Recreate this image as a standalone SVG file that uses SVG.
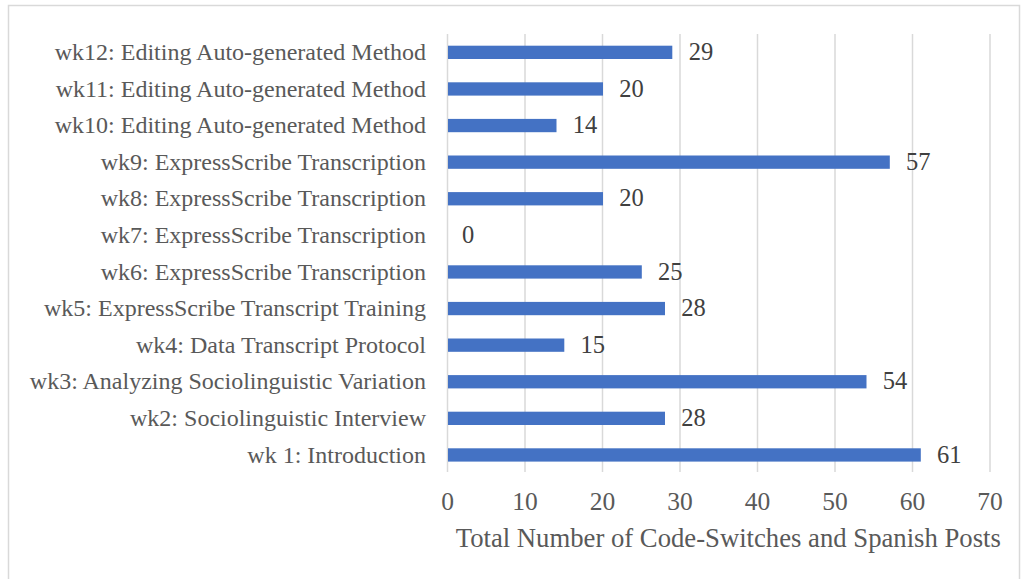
<svg xmlns="http://www.w3.org/2000/svg" width="1021" height="579" viewBox="0 0 1021 579">
<style>
.cat{font-family:"Liberation Serif","Times New Roman",serif;font-size:24px;fill:#595959;text-anchor:end}
.val{font-family:"Liberation Serif","Times New Roman",serif;font-size:24.5px;fill:#404040;text-anchor:start}
.tick{font-family:"Liberation Serif","Times New Roman",serif;font-size:25.5px;fill:#595959;text-anchor:middle}
.title{font-family:"Liberation Serif","Times New Roman",serif;font-size:26.7px;fill:#595959;text-anchor:middle}
.grid{stroke:#d9d9d9;stroke-width:1.5}
.bar{fill:#4472c4}
</style>
<rect x="0" y="0" width="1021" height="579" fill="#ffffff"/>
<rect x="8.5" y="5.5" width="1011" height="600" fill="#ffffff" stroke="#d9d9d9" stroke-width="1.5"/>
<g id="gridlines">
<line class="grid" x1="447.5" y1="34" x2="447.5" y2="472"/>
<line class="grid" x1="525" y1="34" x2="525" y2="472"/>
<line class="grid" x1="602.5" y1="34" x2="602.5" y2="472"/>
<line class="grid" x1="680" y1="34" x2="680" y2="472"/>
<line class="grid" x1="757.5" y1="34" x2="757.5" y2="472"/>
<line class="grid" x1="835" y1="34" x2="835" y2="472"/>
<line class="grid" x1="912.5" y1="34" x2="912.5" y2="472"/>
<line class="grid" x1="990" y1="34" x2="990" y2="472"/>
</g>
<g id="ticks">
<text class="tick" x="447.5" y="509.5">0</text>
<text class="tick" x="525" y="509.5">10</text>
<text class="tick" x="602.5" y="509.5">20</text>
<text class="tick" x="680" y="509.5">30</text>
<text class="tick" x="757.5" y="509.5">40</text>
<text class="tick" x="835" y="509.5">50</text>
<text class="tick" x="912.5" y="509.5">60</text>
<text class="tick" x="990" y="509.5">70</text>
</g>
<text id="axis-title" class="title" x="728.3" y="547">Total Number of Code-Switches and Spanish Posts</text>
<g id="row-wk12"><text class="cat" x="426" y="60">wk12: Editing Auto-generated Method</text><rect class="bar" x="448" y="45.7" width="224.3" height="13.3"/><text class="val" x="688.7" y="60">29</text></g>
<g id="row-wk11"><text class="cat" x="426" y="96.6">wk11: Editing Auto-generated Method</text><rect class="bar" x="448" y="82.3" width="155" height="13.3"/><text class="val" x="619.3" y="96.6">20</text></g>
<g id="row-wk10"><text class="cat" x="426" y="133.2">wk10: Editing Auto-generated Method</text><rect class="bar" x="448" y="118.9" width="108.5" height="13.3"/><text class="val" x="572.8" y="133.2">14</text></g>
<g id="row-wk9"><text class="cat" x="426" y="169.8">wk9: ExpressScribe Transcription</text><rect class="bar" x="448" y="155.5" width="441.8" height="13.3"/><text class="val" x="906" y="169.8">57</text></g>
<g id="row-wk8"><text class="cat" x="426" y="206.4">wk8: ExpressScribe Transcription</text><rect class="bar" x="448" y="192.1" width="155" height="13.3"/><text class="val" x="619.3" y="206.4">20</text></g>
<g id="row-wk7"><text class="cat" x="426" y="243">wk7: ExpressScribe Transcription</text><text class="val" x="462" y="243">0</text></g>
<g id="row-wk6"><text class="cat" x="426" y="279.6">wk6: ExpressScribe Transcription</text><rect class="bar" x="448" y="265.3" width="193.8" height="13.3"/><text class="val" x="658" y="279.6">25</text></g>
<g id="row-wk5"><text class="cat" x="426" y="316.2">wk5: ExpressScribe Transcript Training</text><rect class="bar" x="448" y="301.9" width="217" height="13.3"/><text class="val" x="681.3" y="316.2">28</text></g>
<g id="row-wk4"><text class="cat" x="426" y="352.8">wk4: Data Transcript Protocol</text><rect class="bar" x="448" y="338.5" width="116.3" height="13.3"/><text class="val" x="580.5" y="352.8">15</text></g>
<g id="row-wk3"><text class="cat" x="426" y="389.4">wk3: Analyzing Sociolinguistic Variation</text><rect class="bar" x="448" y="375.1" width="418.5" height="13.3"/><text class="val" x="882.8" y="389.4">54</text></g>
<g id="row-wk2"><text class="cat" x="426" y="426">wk2: Sociolinguistic Interview</text><rect class="bar" x="448" y="411.7" width="217" height="13.3"/><text class="val" x="681.3" y="426">28</text></g>
<g id="row-wk1"><text class="cat" x="426" y="462.6">wk 1: Introduction</text><rect class="bar" x="448" y="448.3" width="472.8" height="13.3"/><text class="val" x="937" y="462.6">61</text></g>
</svg>
